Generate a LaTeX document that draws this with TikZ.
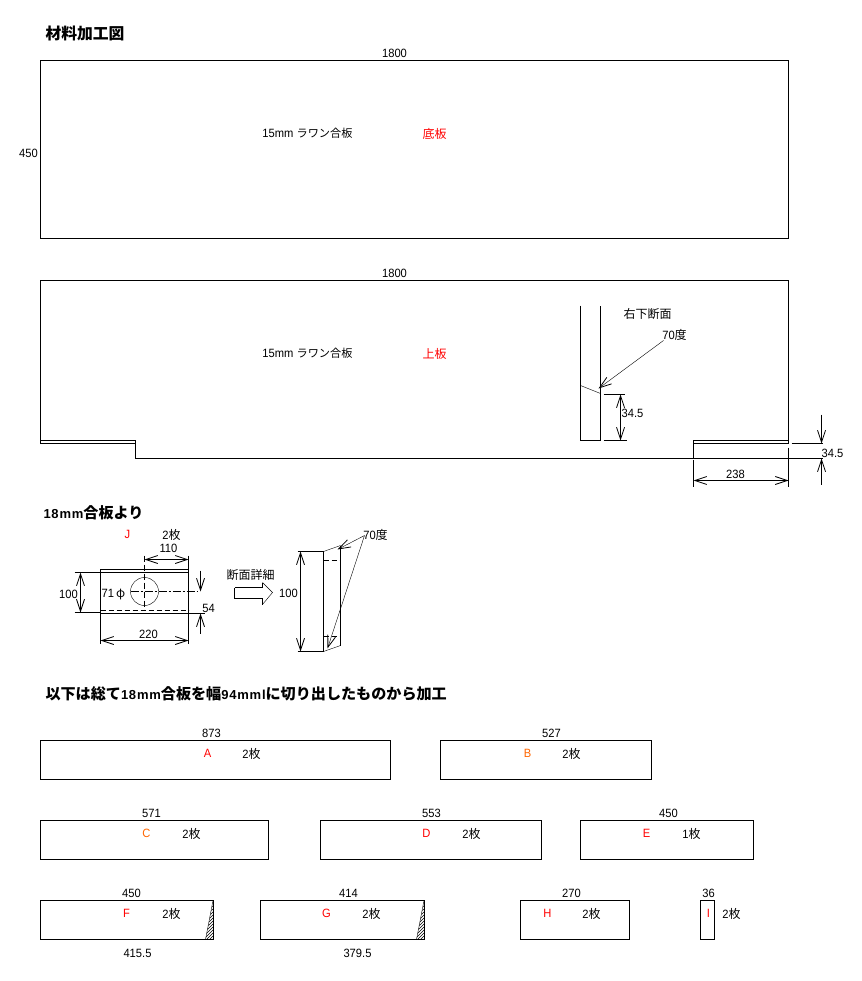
\documentclass[tikz,border=0pt]{standalone}
\usepackage{fontspec}
\usetikzlibrary{arrows.meta}
\setmainfont[FakeStretch=0.93]{Liberation Sans}
\newfontfamily\cjk{Noto Sans CJK JP}
\newfontfamily\hwbold[LetterSpace=6]{Liberation Sans}
\definecolor{lblred}{RGB}{255,0,0}
\definecolor{lblorange}{RGB}{255,102,0}
\newcommand{\Jp}[1]{{\cjk\fontsize{12}{12}\selectfont #1}}
\newcommand{\JpN}[1]{{\cjk\fontsize{11.2}{12}\selectfont #1}}
\newcommand{\HT}[1]{{\cjk\bfseries\fontsize{15.8}{16}\selectfont #1}}
\newcommand{\HB}[1]{{\cjk\bfseries\fontsize{15.1}{16}\selectfont #1}}
\newcommand{\HL}[1]{{\hwbold\bfseries\fontsize{13}{16}\selectfont #1}}
\newcommand{\lbl}[4]{\node[lab] (#1) at (#2,#3) {#4};}
\newcommand{\board}[5]{\node[boardbox,minimum width={(#4-#2)*1pt},minimum height={(#5-#3)*1pt}] (#1) at (#2,#3) {};}
\newcommand{\hatchcut}[3]{%
  \begin{scope}
    \clip (#1,900) -- (#1,939) -- (#2,939) -- cycle;
    \foreach \k in {-21,-18,...,42} {\draw[hatchline] (#2-8,939-\k) -- ++(20,-20);}
  \end{scope}
  \draw (#1,900) -- (#1,939);
  \draw (#2,939) -- (#1,939);
  \draw (#1-.5,900) -- (#2,939);}
\tikzset{
  x=1pt,y=-1pt,
  line width=1.1pt,
  lab/.style={inner sep=0pt,outer sep=0pt,font=\fontsize{12}{12}\selectfont,text=black},
  boardbox/.style={draw=black,anchor=north west,inner sep=0pt,outer sep=0pt},
  hatchline/.style={line width=.55pt},
  dim/.style={{Straight Barb[length=12pt,width=8pt,line width=.8pt]}-{Straight Barb[length=12pt,width=8pt,line width=.8pt]}},
  dimend/.style={-{Straight Barb[length=12pt,width=8pt,line width=.8pt]}},
  dashline/.style={dash pattern=on 5pt off 3pt},
  chain/.style={dash pattern=on 8pt off 2pt on 2pt off 2pt},
  vdash/.style={dash pattern=on 6pt off 3pt},
}
\begin{document}
\begin{tikzpicture}
\useasboundingbox[fill=white] (0,0) rectangle (861,981);
\begin{scope}[shift={(.5,.5)}]

% Headings
\node[lab,anchor=west] (title) at (45,33) {\HT{材料加工図}};
\node[lab,anchor=west] (h18) at (43,512) {\HL{18mm}\HB{合板より}};
\node[lab,anchor=west] (hall) at (45,693) {\HB{以下は総て}\HL{18mm}\HB{合板を幅}\HL{94mml}\HB{に切り出したものから加工}};

% Bottom board
\board{B1}{40}{60}{788}{238}
\lbl{B1w}{394}{53}{1800}
\lbl{B1h}{28}{153}{450}
\lbl{B1m}{307}{133}{15mm \JpN{ラワン合板}}
\lbl{B1n}{434}{133}{\color{lblred}\Jp{底板}}

% Top board
\coordinate (tl) at (40,280);
\coordinate (tr) at (788,280);
\draw (40,443) -- (tl) -- (tr) -- (788,443);
\draw (40,440) -- (135,440) -- (135,458) -- (788,458);
\draw (40,443) -- (135,443);
\draw (693,458) -- (693,440) -- (788,440);
\draw (693,443) -- (788,443);
\lbl{B2w}{394}{273}{1800}
\lbl{B2m}{307}{353}{15mm \JpN{ラワン合板}}
\lbl{B2n}{434}{353}{\color{lblred}\Jp{上板}}

% Lower-right section of the top board
\draw (580,305) -- (580,440) -- (600,440) -- (600,305);
\draw (580,385) -- (600,393);
\lbl{secT}{647}{313}{\Jp{右下断面}}
\lbl{secA}{674}{334}{70\Jp{度}}
\coordinate (secTip) at (598,388);
\draw[dimend] (663,340) -- (secTip);
\draw (603,394) -- (624,394);
\draw (603,440) -- (626,440);
\draw[dim] (620,394) -- (620,440);
\lbl{d345a}{632}{413}{34.5}

% Notch dimensions
\draw (693,459) -- (693,486);
\draw (788,447) -- (788,486);
\draw[dim] (693,480) -- (788,480);
\lbl{d238}{735}{474}{238}
\draw (791,443) -- (822,443);
\draw (788,458) -- (822,458);
\draw[dimend] (821,414) -- (821,443);
\draw[dimend] (821,484) -- (821,458);
\lbl{d345b}{832}{453}{34.5}

% Part J
\lbl{Jn}{127}{534}{\color{lblred}J}
\lbl{Jq}{171}{534}{2\Jp{枚}}
\board{J}{100}{569}{188}{613}
\draw (100,572) -- (188,572);
\draw[dashline] (100,610) -- (188,610);
\node[draw,circle,inner sep=0pt,minimum size=28pt] (hole) at (144,591) {};
\draw[chain] (130,591) -- (197,591);
\draw[vdash] (144,555) -- (144,610);
\lbl{d110}{168}{548}{110}
\draw[dim] (144,559) -- (188,559);
\draw (188,555) -- (188,569);
\lbl{d100}{68}{594}{100}
\draw (74,572) -- (100,572);
\draw (74,612) -- (100,612);
\draw[dim] (80,572) -- (80,612);
\lbl{dphi}{113}{594}{71\,\Jp{φ}}
\lbl{d220}{148}{634}{220}
\draw (100,613) -- (100,643);
\draw (188,613) -- (188,643);
\draw[dim] (100,640) -- (188,640);
\draw[dimend] (200,570) -- (200,591);
\draw (188,613) -- (204,613);
\draw[dimend] (200,633) -- (200,613);
\lbl{d54}{208}{608}{54}

% Section detail
\lbl{detT}{250}{574}{\Jp{断面詳細}}
\draw (234,587) -- (262,587) -- (262,582);
\draw (262,604) -- (262,598) -- (234,598) -- (234,587);
\draw (262,582) -- (272,592) -- (262,604);
\draw (323,551) -- (323,651);
\draw (340,545) -- (340,645);
\draw (323,551) -- (340,545);
\draw (323,651) -- (340,645);
\draw[dashline] (323,560) -- (340,560);
\draw[dashline] (323,636) -- (340,636);
\draw (297,551) -- (323,551);
\draw (297,651) -- (323,651);
\draw[dim] (300,551) -- (300,651);
\lbl{det100}{288}{593}{100}
\lbl{det70}{375}{534}{70\Jp{度}}
\coordinate (detA) at (364,535);
\coordinate (detTipA) at (337,549);
\coordinate (detTipB) at (327,648);
\draw[dimend] (detA) -- (detTipA);
\draw[dimend] (detA) -- (detTipB);

% Strips
\board{A}{40}{740}{390}{779}
\lbl{Aw}{211}{733}{873}
\lbl{An}{207}{753}{\color{lblred}A}
\lbl{Aq}{251}{753}{2\Jp{枚}}

\board{Bb}{440}{740}{651}{779}
\lbl{Bw}{551}{733}{527}
\lbl{Bn}{527}{753}{\color{lblorange}B}
\lbl{Bq}{571}{753}{2\Jp{枚}}

\board{C}{40}{820}{268}{859}
\lbl{Cw}{151}{813}{571}
\lbl{Cn}{146}{833}{\color{lblorange}C}
\lbl{Cq}{191}{833}{2\Jp{枚}}

\board{D}{320}{820}{541}{859}
\lbl{Dw}{431}{813}{553}
\lbl{Dn}{426}{833}{\color{lblred}D}
\lbl{Dq}{471}{833}{2\Jp{枚}}

\board{E}{580}{820}{753}{859}
\lbl{Ew}{668}{813}{450}
\lbl{En}{646}{833}{\color{lblred}E}
\lbl{Eq}{691}{833}{1\Jp{枚}}

\board{F}{40}{900}{213}{939}
\lbl{Fw}{131}{893}{450}
\lbl{Fn}{126}{913}{\color{lblred}F}
\lbl{Fq}{171}{913}{2\Jp{枚}}
\lbl{Fb}{137}{953}{415.5}
\hatchcut{213}{205}{F}

\board{G}{260}{900}{424}{939}
\lbl{Gw}{348}{893}{414}
\lbl{Gn}{326}{913}{\color{lblred}G}
\lbl{Gq}{371}{913}{2\Jp{枚}}
\lbl{Gb}{357}{953}{379.5}
\hatchcut{424}{416}{G}

\board{H}{520}{900}{629}{939}
\lbl{Hw}{571}{893}{270}
\lbl{Hn}{547}{913}{\color{lblred}H}
\lbl{Hq}{591}{913}{2\Jp{枚}}

\board{I}{700}{900}{714}{939}
\lbl{Iw}{708}{893}{36}
\lbl{In}{708}{913}{\color{lblred}I}
\lbl{Iq}{731}{913}{2\Jp{枚}}
\end{scope}
\end{tikzpicture}
\end{document}
